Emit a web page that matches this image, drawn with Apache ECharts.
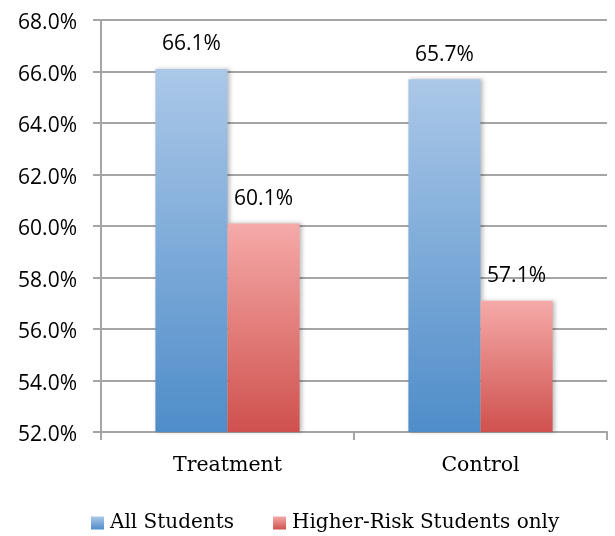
<!DOCTYPE html>
<html><head><meta charset="utf-8">
<script src="https://cdn.jsdelivr.net/npm/echarts@6/dist/echarts.min.js"></script>
<style>html,body{margin:0;padding:0;background:#fff}#c{width:615px;height:536px}</style>
</head><body><div id="c"></div>
<script>
const categories = ['Treatment', 'Control'];
const allStudents = [66.1, 65.7];
const higherRisk = [60.1, 57.1];
const seriesNames = ['All Students', 'Higher-Risk Students only'];

function grad(top, bottom) {
  return new echarts.graphic.LinearGradient(0, 0, 0, 1, [{offset: 0, color: top}, {offset: 1, color: bottom}]);
}
const chart = echarts.init(document.getElementById('c'));
const labelCfg = {
  show: true, position: 'top', distance: 14,
  fontFamily: 'Open Sans', fontSize: 21, color: '#000',
  formatter: p => p.value.toFixed(1) + '%'
};
chart.setOption({
  animation: false,
  grid: {left: 101, right: 8, top: 20, bottom: 104},
  legend: {
    top: 508, left: 86, itemWidth: 13, itemHeight: 13, itemGap: 39,
    icon: 'rect',
    textStyle: {fontFamily: 'DejaVu Serif', fontSize: 20, color: '#000', padding: [0, 0, 0, 1]},
    data: seriesNames
  },
  xAxis: {
    type: 'category', data: categories,
    axisLine: {lineStyle: {color: '#a5a5a5', width: 2}},
    axisTick: {show: true, length: 8, lineStyle: {color: '#a5a5a5', width: 2}},
    axisLabel: {fontFamily: 'DejaVu Serif', fontSize: 20.5, color: '#000', margin: 23}
  },
  yAxis: {
    type: 'value', min: 52, max: 68, interval: 2,
    axisLine: {show: true, lineStyle: {color: '#a5a5a5', width: 2}},
    axisTick: {show: true, length: 8, lineStyle: {color: '#a5a5a5', width: 2}},
    splitLine: {lineStyle: {color: '#a5a5a5', width: 2}},
    axisLabel: {fontFamily: 'Open Sans', fontSize: 21, color: '#000', margin: 24,
      verticalAlign: 'top', lineHeight: 7,
      formatter: v => v.toFixed(1) + '%'}
  },
  series: [
    {name: seriesNames[0], type: 'bar', data: allStudents, barGap: '0%', barCategoryGap: '43%',
     itemStyle: {color: grad('#abc8e8', '#4f8dc9'), shadowColor: 'rgba(0,0,0,0.25)', shadowBlur: 4, shadowOffsetX: 2},
     label: labelCfg},
    {name: seriesNames[1], type: 'bar', data: higherRisk, barGap: '0%', barCategoryGap: '43%',
     itemStyle: {color: grad('#f5aaa9', '#cf514d'), shadowColor: 'rgba(0,0,0,0.25)', shadowBlur: 4, shadowOffsetX: 2},
     label: labelCfg}
  ]
});
</script></body></html>
